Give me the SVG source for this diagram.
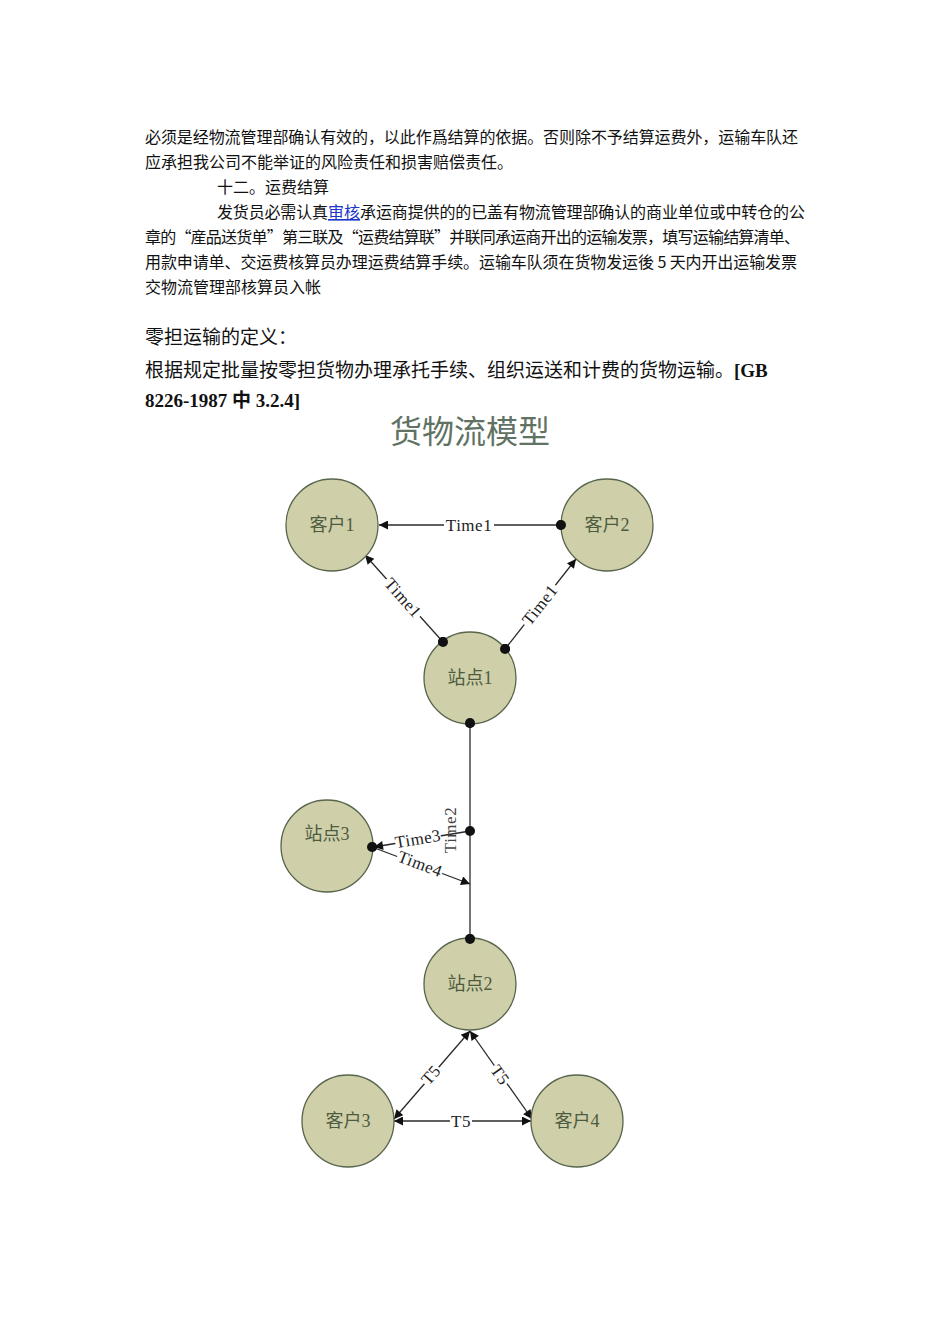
<svg xmlns="http://www.w3.org/2000/svg" width="950" height="1344" viewBox="0 0 950 1344">
<style>
.body{font-family:"Noto Sans CJK SC","Noto Sans",sans-serif;font-size:16px;fill:#111}
.def{font-family:"Liberation Serif","Noto Sans CJK SC",serif;font-size:19px;fill:#111}
.b{font-weight:bold}
.title{font-family:"Liberation Serif","Noto Sans CJK SC",serif;font-size:32px;fill:#5f7263}
.node circle{fill:#cfcfa9;stroke:#56654c;stroke-width:1.3}
.node text{font-family:"Liberation Serif","Noto Sans CJK SC",serif;font-size:18px;fill:#4d5b40;text-anchor:middle}
.edge{stroke:#2a2a2a;stroke-width:1.3;fill:none}
.lbl text{font-family:"Liberation Serif","Noto Sans CJK SC",serif;font-size:17px;fill:#222;text-anchor:middle;letter-spacing:0.5px}
.lbl rect{fill:#fff}
</style>
<defs>
<marker id="arr" viewBox="0 0 10 10" refX="10" refY="5" markerWidth="11" markerHeight="9" orient="auto-start-reverse" markerUnits="userSpaceOnUse"><path d="M0,0 L10,5 L0,10 z" fill="#111"/></marker>
<marker id="dot" viewBox="0 0 10 10" refX="5" refY="5" markerWidth="10" markerHeight="10" markerUnits="userSpaceOnUse"><circle cx="5" cy="5" r="5" fill="#111"/></marker>
</defs>
<rect width="950" height="1344" fill="#fff"/>

<g id="text">
<text class="body" x="145" y="143" textLength="653" lengthAdjust="spacing">必须是经物流管理部确认有效的，以此作爲结算的依据。否则除不予结算运费外，运输车队还</text>
<text class="body" x="145" y="168">应承担我公司不能举证的风险责任和损害赔偿责任。</text>
<text class="body" x="217" y="193">十二。运费结算</text>
<text class="body" x="217" y="218" textLength="111" lengthAdjust="spacing">发货员必需认真</text>
<text class="body" x="328" y="218" style="fill:#1a35c8;text-decoration:underline">审核</text>
<text class="body" x="360" y="218" textLength="445" lengthAdjust="spacing">承运商提供的的已盖有物流管理部确认的商业单位或中转仓的公</text>
<text class="body" x="145" y="243" textLength="655" lengthAdjust="spacing">章的“産品送货单”第三联及“运费结算联”并联同承运商开出的运输发票，填写运输结算清单、</text>
<text class="body" x="145" y="268" textLength="652" lengthAdjust="spacing">用款申请单、交运费核算员办理运费结算手续。运输车队须在货物发运後 5 天内开出运输发票</text>
<text class="body" x="145" y="293">交物流管理部核算员入帐</text>
<text class="def" x="145" y="344">零担运输的定义：</text>
<text class="def" x="145" y="377">根据规定批量按零担货物办理承托手续、组织运送和计费的货物运输。<tspan class="b">[GB</tspan></text>
<text class="def b" x="145" y="407">8226-1987 中 3.2.4]</text>
<text class="title" x="470" y="443" text-anchor="middle">货物流模型</text>
</g>

<g id="connectors">
<line class="edge" x1="561" y1="525" x2="379" y2="525" marker-start="url(#dot)" marker-end="url(#arr)"/>
<line class="edge" x1="443" y1="642" x2="365" y2="555" marker-start="url(#dot)" marker-end="url(#arr)"/>
<line class="edge" x1="505" y1="649" x2="576" y2="559" marker-start="url(#dot)" marker-end="url(#arr)"/>
<line class="edge" x1="470" y1="723" x2="470" y2="939" marker-start="url(#dot)" marker-end="url(#dot)"/>
<line class="edge" x1="470" y1="831" x2="374" y2="847" marker-start="url(#dot)" marker-end="url(#arr)"/>
<line class="edge" x1="372" y1="847" x2="470" y2="884" marker-start="url(#dot)" marker-end="url(#arr)"/>
<line class="edge" x1="470" y1="1031" x2="394" y2="1119" marker-start="url(#arr)" marker-end="url(#arr)"/>
<line class="edge" x1="470" y1="1031" x2="532" y2="1119" marker-start="url(#arr)" marker-end="url(#arr)"/>
<line class="edge" x1="394" y1="1121" x2="531" y2="1121" marker-start="url(#arr)" marker-end="url(#arr)"/>
<g class="lbl" transform="translate(469,525)"><rect x="-25" y="-9" width="50" height="18"/><text y="5.5">Time1</text></g>
<g class="lbl" transform="translate(403,598) rotate(48.5)"><rect x="-25" y="-9" width="50" height="18"/><text y="5.5">Time1</text></g>
<g class="lbl" transform="translate(540,605) rotate(-51.5)"><rect x="-25" y="-9" width="50" height="18"/><text y="5.5">Time1</text></g>
<g class="lbl" transform="translate(418,839) rotate(-9.6)"><rect x="-23" y="-8" width="46" height="16"/><text y="5.5">Time3</text></g>
<g class="lbl" transform="translate(420,864) rotate(20.7)"><rect x="-24" y="-8" width="48" height="16"/><text y="5.5">Time4</text></g>
<g class="lbl" transform="translate(450,830) rotate(-90)"><text y="5.5" style="fill:#444">Time2</text></g>
<g class="lbl" transform="translate(431,1075) rotate(-49)"><rect x="-11" y="-8" width="22" height="16"/><text y="5.5">T5</text></g>
<g class="lbl" transform="translate(500,1075) rotate(55)"><rect x="-11" y="-8" width="22" height="16"/><text y="5.5">T5</text></g>
<g class="lbl" transform="translate(461,1121)"><rect x="-11" y="-8" width="22" height="16"/><text y="5.5">T5</text></g>
</g>

<g id="node-kehu1" class="node"><circle cx="332" cy="525" r="46"/><text x="332" y="531">客户1</text></g>
<g id="node-kehu2" class="node"><circle cx="607" cy="525" r="46"/><text x="607" y="531">客户2</text></g>
<g id="node-zhan1" class="node"><circle cx="470" cy="678" r="46"/><text x="470" y="684">站点1</text></g>
<g id="node-zhan3" class="node"><circle cx="327" cy="846" r="46"/><text x="327" y="840">站点3</text></g>
<g id="node-zhan2" class="node"><circle cx="470" cy="984" r="46"/><text x="470" y="990">站点2</text></g>
<g id="node-kehu3" class="node"><circle cx="348" cy="1121" r="46"/><text x="348" y="1127">客户3</text></g>
<g id="node-kehu4" class="node"><circle cx="577" cy="1121" r="46"/><text x="577" y="1127">客户4</text></g>

<g id="markers-over">
<circle cx="561" cy="525" r="5" fill="#111"/>
<circle cx="443" cy="642" r="5" fill="#111"/>
<circle cx="505" cy="649" r="5" fill="#111"/>
<circle cx="470" cy="723" r="5" fill="#111"/>
<circle cx="470" cy="939" r="5" fill="#111"/>
<circle cx="372" cy="847" r="5" fill="#111"/>
</g>
</svg>
